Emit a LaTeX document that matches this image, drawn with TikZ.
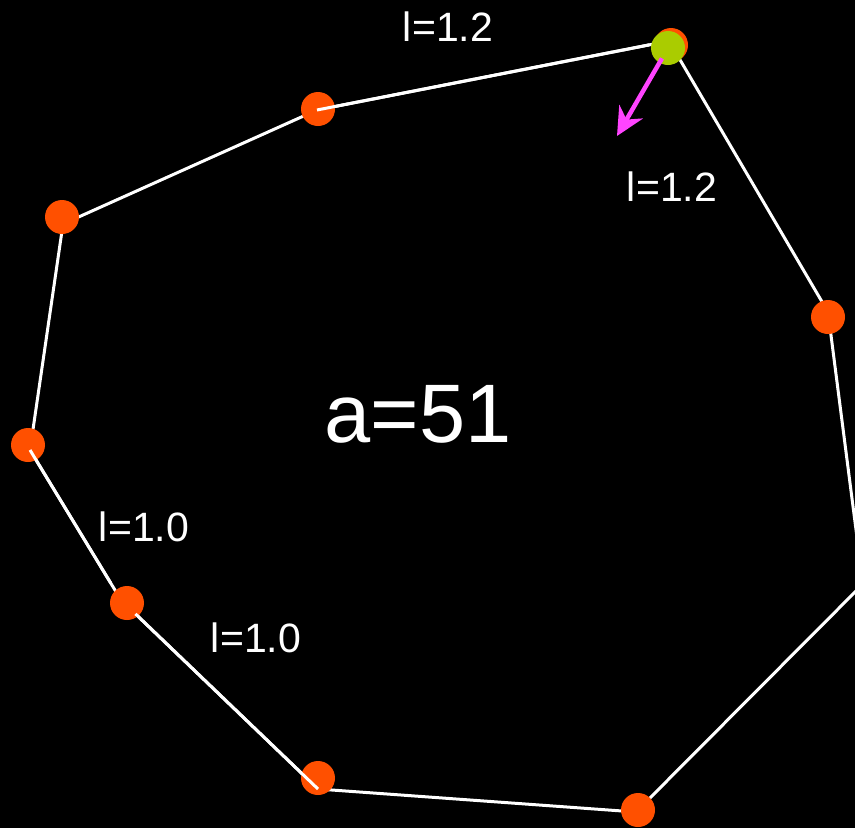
\documentclass[tikz,border=0pt]{standalone}
\usepackage{fontspec}
\setmainfont{Liberation Sans}
\usetikzlibrary{arrows.meta}
\definecolor{dotorange}{RGB}{255,80,0}
\definecolor{dotgreen}{RGB}{170,204,0}
\definecolor{arrowmag}{RGB}{255,68,255}
\tikzset{
  edge/.style={draw=white, line width=3pt},
  dot/.style={circle, fill=dotorange, draw=none, minimum size=34pt, inner sep=0pt},
  gdot/.style={circle, fill=dotgreen, draw=none, minimum size=34pt, inner sep=0pt},
  lbl/.style={text=white, inner sep=0pt, font=\fontsize{41}{41}\selectfont},
  biglbl/.style={text=white, inner sep=0pt, font=\fontsize{83}{83}\selectfont},
  vel/.style={draw=arrowmag, line width=4.5pt, -{Stealth[length=28pt,width=27pt,inset=9pt]}}
}
\begin{document}
\begin{tikzpicture}[x=1pt,y=-1pt]
\fill[black] (0,0) rectangle (855,828);
\useasboundingbox (0,0) rectangle (855,828);
\clip (0,0) rectangle (855,828);
% polygon vertices
\coordinate (v1) at (669,41);
\coordinate (v2) at (828,312);
\coordinate (v3) at (863,584);
\coordinate (v4) at (636,812);
\coordinate (v5) at (318,789);
\coordinate (v6) at (121,600);
\coordinate (v7) at (30,450);
\coordinate (v8) at (63,224);
\coordinate (v9) at (317,110);
\coordinate (tip) at (617,136);
% edges under the dots
\draw[edge] (v9) -- (v1) -- (v2) -- (v3) -- (v4) -- (v5) -- (v6) -- (v7) -- (v8) -- cycle;
% dots
\node[dot] (n1) at (671,45) {};
\node[dot] (n2) at (828,317) {};
\node[dot] (n4) at (638,810) {};
\node[dot] (n5) at (318,778) {};
\node[dot] (n6) at (127,603) {};
\node[dot] (n7) at (28,445) {};
\node[dot] (n8) at (62,217) {};
\node[dot] (n9) at (318,109) {};
% edges drawn over some dots
\draw[edge, shorten >=20pt] (v5) -- (v6);
\draw[edge, shorten <=20pt] (v6) -- (v7);
\draw[edge, shorten >=20pt] (v9) -- (v1);
% moving dot
\node[gdot] (g) at (668,48) {};
\draw[vel, shorten <=12pt] (g.center) -- (tip);
% labels
\node[lbl] (l1) at (448,27) {l=1.2};
\node[lbl] (l2) at (672,187) {l=1.2};
\node[lbl] (l3) at (144,527) {l=1.0};
\node[lbl] (l4) at (256,638) {l=1.0};
\node[biglbl] (a) at (418,414) {a=51};
\end{tikzpicture}
\end{document}
